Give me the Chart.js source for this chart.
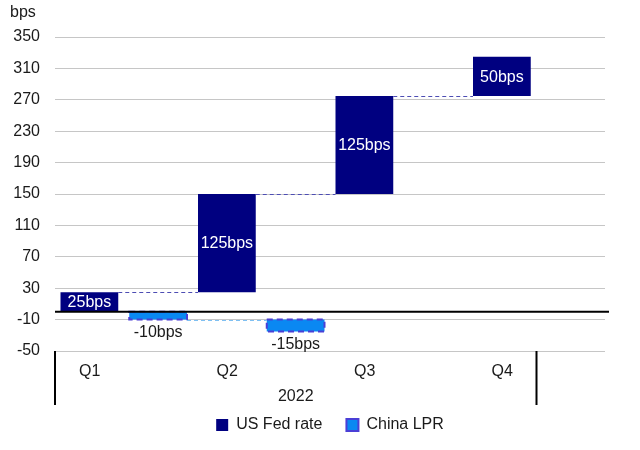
<!DOCTYPE html>
<html>
<head>
<meta charset="utf-8">
<script src="https://cdn.jsdelivr.net/npm/chart.js@4/dist/chart.umd.min.js"></script>
<style>
  body { margin: 0; background: #fff; }
  #wrap { width: 640px; height: 450px; position: relative; }
</style>
</head>
<body>
<div id="wrap"><canvas id="chart"></canvas></div>
<script>
const quarters = ["Q1", "Q2", "Q3", "Q4"];
const fedMoves = [25, 125, 125, 50];
const lprMoves = [-10, -15, null, null];
const yearLabel = "2022";
const unitLabel = "bps";

const FONT = "'Liberation Sans', Arial, sans-serif";
const NAVY = "#000080";
const LPR_FILL = "#0a88f2";
const LPR_EDGE = "#4a3fd6";

// waterfall: each bar floats from the running total
function floating(moves) {
  let total = 0;
  return moves.map((m) => {
    if (m === null) return null;
    let start = total;
    total += m;
    return [start, total];
  });
}

let fedBars = floating(fedMoves);
let lprBars = floating(lprMoves);

let extras = {
  id: "extras",
  //center the legend under the plot area, not the whole canvas
  afterLayout(chart) {
    if (chart.legend) {
      chart.legend.left = chart.chartArea.left;
      chart.legend.right = chart.chartArea.right;
    }
  },
  afterDatasetsDraw(chart) {
    let ctx = chart.ctx;
    let area = chart.chartArea;
    let y = chart.scales.y;
    let fedMeta = chart.getDatasetMeta(0);
    let lprMeta = chart.getDatasetMeta(1);

    ctx.save();

    //dashed outline of the China bars
    ctx.strokeStyle = LPR_EDGE;
    ctx.lineWidth = 2;
    ctx.setLineDash([6, 4]);
    lprMeta.data.forEach((bar, i) => {
      if (lprMoves[i] === null) return;
      let top = Math.min(bar.y, bar.base);
      let h = Math.abs(bar.base - bar.y);
      ctx.strokeRect(bar.x - bar.width / 2, top, bar.width, h);
    });

    //connectors between bars
    ctx.lineWidth = 1;
    ctx.setLineDash([4, 3]);
    function connect(meta, bars, color) {
      ctx.strokeStyle = color;
      for (let i = 0; i < bars.length - 1; i++) {
        if (!bars[i] || !bars[i + 1]) continue;
        let a = meta.data[i];
        let b = meta.data[i + 1];
        let py = Math.round(y.getPixelForValue(bars[i][1])) + 0.5;
        ctx.beginPath();
        ctx.moveTo(a.x + a.width / 2, py);
        ctx.lineTo(b.x - b.width / 2, py);
        ctx.stroke();
      }
    }
    connect(fedMeta, fedBars, "#4d4db3");
    connect(lprMeta, lprBars, "#7fc0f2");
    ctx.setLineDash([]);

    //zero line
    let zy = y.getPixelForValue(0);
    ctx.strokeStyle = "#000";
    ctx.lineWidth = 2;
    ctx.beginPath();
    ctx.moveTo(area.left, zy);
    ctx.lineTo(area.right + 4, zy);
    ctx.stroke();

    //value labels
    ctx.font = "16px " + FONT;
    ctx.textAlign = "center";
    ctx.textBaseline = "middle";
    fedMeta.data.forEach((bar, i) => {
      ctx.fillStyle = "#fff";
      ctx.fillText(fedMoves[i] + "bps", bar.x, (bar.y + bar.base) / 2 + 1);
    });
    lprMeta.data.forEach((bar, i) => {
      if (lprMoves[i] === null) return;
      ctx.fillStyle = "#1a1a1a";
      ctx.fillText(lprMoves[i] + "bps", bar.x, Math.max(bar.y, bar.base) + 13);
    });

    //group axis: year under the quarters
    let x = chart.scales.x;
    let gLeft = area.left;
    let gRight = Math.round(x.getPixelForValue(3)) + 0.5;
    ctx.strokeStyle = "#000";
    ctx.lineWidth = 2;
    ctx.beginPath();
    ctx.moveTo(gLeft, area.bottom);
    ctx.lineTo(gLeft, area.bottom + 54);
    ctx.moveTo(gRight, area.bottom);
    ctx.lineTo(gRight, area.bottom + 54);
    ctx.stroke();
    ctx.fillStyle = "#1a1a1a";
    ctx.fillText(yearLabel, (gLeft + gRight) / 2, area.bottom + 46);

    //unit at top left
    ctx.textAlign = "left";
    ctx.textBaseline = "alphabetic";
    ctx.fillText(unitLabel, 10, 17);

    ctx.restore();
  },
};

new Chart(document.getElementById("chart"), {
  type: "bar",
  data: {
    labels: quarters,
    datasets: [
      {
        label: "US Fed rate",
        data: fedBars,
        backgroundColor: NAVY,
        borderWidth: 0,
      },
      {
        label: "China LPR",
        data: lprBars,
        backgroundColor: LPR_FILL,
        borderWidth: 0,
      },
    ],
  },
  options: {
    responsive: true,
    maintainAspectRatio: false,
    animation: false,
    categoryPercentage: 1,
    barPercentage: 0.84,
    layout: { padding: { top: 37, right: 35, left: 0, bottom: 7 } },
    plugins: {
      tooltip: { enabled: false },
      legend: {
        position: "bottom",
        labels: {
          font: { family: FONT, size: 16 },
          color: "#1a1a1a",
          boxWidth: 12,
          boxHeight: 12,
          padding: 24,
          generateLabels(chart) {
            return chart.data.datasets.map((ds, i) => ({
              text: ds.label,
              fillStyle: ds.backgroundColor,
              strokeStyle: i === 1 ? LPR_EDGE : ds.backgroundColor,
              lineWidth: i === 1 ? 2 : 0,
              fontColor: "#1a1a1a",
              hidden: false,
              datasetIndex: i,
            }));
          },
        },
      },
    },
    scales: {
      x: {
        grid: { display: false },
        border: { display: false },
        ticks: {
          font: { family: FONT, size: 16 },
          color: "#1a1a1a",
          labelOffset: -34,
          padding: 3,
        },
        afterFit(scale) {
          scale.height = 42;
        },
      },
      y: {
        min: -50,
        max: 350,
        grid: { color: "#c6c6c6", drawTicks: false },
        border: { display: false },
        ticks: {
          stepSize: 40,
          font: { family: FONT, size: 16 },
          color: "#1a1a1a",
          padding: 15,
        },
        afterFit(scale) {
          scale.width = 55;
        },
      },
    },
  },
  plugins: [extras],
});
</script>
</body>
</html>
